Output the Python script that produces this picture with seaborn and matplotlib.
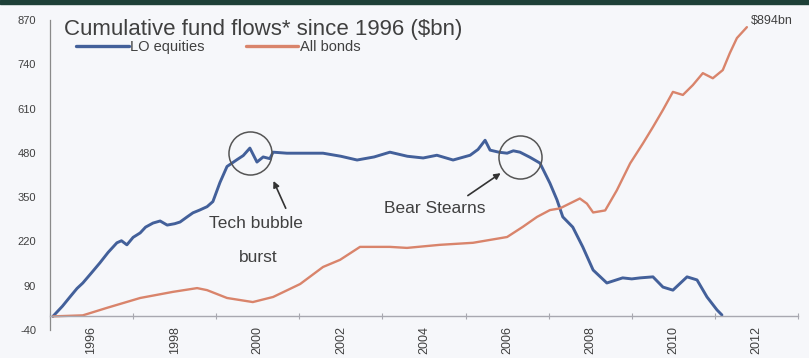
import matplotlib
matplotlib.use("Agg")
import matplotlib.pyplot as plt
import seaborn as sns
import pandas as pd
from matplotlib.lines import Line2D

# ---- data ----
eq_years = [1996.07, 1996.3, 1996.48, 1996.65, 1996.79, 1997.0, 1997.2, 1997.4, 1997.61, 1997.72, 1997.85,
            1998.0, 1998.17, 1998.3, 1998.48, 1998.65, 1998.82, 1999.0, 1999.13, 1999.3, 1999.44, 1999.6,
            1999.78, 1999.92, 2000.09, 2000.26, 2000.5, 2000.65, 2000.81, 2000.98, 2001.13, 2001.29, 2001.37,
            2001.7, 2002.02, 2002.57, 2003.0, 2003.39, 2003.8, 2004.18, 2004.6, 2004.98, 2005.31, 2005.7,
            2006.11, 2006.3, 2006.47, 2006.59, 2006.8, 2007.0, 2007.15, 2007.31, 2007.55, 2007.79, 2008.03,
            2008.2, 2008.34, 2008.58, 2008.82, 2009.07, 2009.4, 2009.78, 2010.0, 2010.2, 2010.51, 2010.75,
            2010.99, 2011.33, 2011.57, 2011.81, 2012.05, 2012.17]
eq_values = [0, 30, 57, 82, 98, 128, 157, 188, 216, 222, 210,
             232, 245, 262, 274, 280, 268, 272, 277, 292, 304, 312,
             322, 337, 393, 440, 460, 472, 494, 453, 468, 463, 482,
             479, 479, 479, 470, 459, 468, 482, 470, 465, 473, 459,
             473, 490, 517, 488, 482, 479, 486, 482, 467, 450, 391,
             342, 292, 262, 204, 136, 98, 113, 110, 113, 116, 86,
             77, 116, 107, 57, 19, 4]

bond_years = [1996.07, 1996.79, 1997.37, 1998.17, 1998.96, 1999.54, 1999.78, 2000.26, 2000.88, 2001.37,
              2002.02, 2002.57, 2002.98, 2003.46, 2004.18, 2004.59, 2005.38, 2006.18, 2007.0, 2007.38,
              2007.72, 2008.03, 2008.27, 2008.75, 2008.92, 2009.07, 2009.36, 2009.64, 2009.96, 2010.27,
              2010.51, 2010.75, 2010.99, 2011.23, 2011.47, 2011.71, 2011.95, 2012.19, 2012.36, 2012.53,
              2012.77]
bond_values = [0, 3, 25, 54, 72, 83, 77, 54, 42, 57,
               95, 145, 166, 204, 204, 201, 210, 216, 233, 263,
               292, 312, 317, 346, 331, 305, 311, 370, 449, 508,
               556, 606, 659, 650, 679, 714, 699, 723, 773, 817,
               849]

series_names = ["LO equities", "All bonds"]
year_labels = ["1996", "1998", "2000", "2002", "2004", "2006", "2008", "2010", "2012"]
y_ticks = [-40, 90, 220, 350, 480, 610, 740, 870]

title = "Cumulative fund flows* since 1996 ($bn)"
end_label = "$894bn"

df = pd.concat([
    pd.DataFrame({"year": eq_years, "value": eq_values, "series": series_names[0]}),
    pd.DataFrame({"year": bond_years, "value": bond_values, "series": series_names[1]}),
])

# ---- style ----
sns.set_theme(style="white")
plt.rcParams["font.family"] = ["Liberation Sans", "DejaVu Sans"]
bg = "#f6f7fa"
txt = "#404040"
palette = {"LO equities": "#43609a", "All bonds": "#d9846b"}

fig = plt.figure(figsize=(8.09, 3.58), dpi=100, facecolor=bg)
ax = fig.add_axes([50 / 809, 28 / 358, 748 / 809, 310 / 358])
ax.set_facecolor(bg)

sns.lineplot(data=df, x="year", y="value", hue="series", palette=palette,
             estimator=None, sort=False, ax=ax, legend=False)
for line, lw in zip(ax.lines, [2.1, 1.7]):
    line.set_linewidth(lw)
    line.set_solid_joinstyle("round")

ax.set_xlim(1996, 2014)
ax.set_ylim(-40, 870)
ax.set_xlabel("")
ax.set_ylabel("")

# y axis
ax.set_yticks(y_ticks)
ax.set_yticklabels([str(v) for v in y_ticks])
ax.tick_params(axis="y", length=0, pad=10, labelsize=8, labelcolor=txt)

# x axis: spine at zero, labels centred on two-year bands
for s in ["top", "right"]:
    ax.spines[s].set_visible(False)
ax.spines["left"].set_color("#8a8a8a")
ax.spines["left"].set_linewidth(0.9)
ax.spines["bottom"].set_position(("data", 0))
ax.spines["bottom"].set_color("#a8a8b0")
ax.spines["bottom"].set_linewidth(1.0)
label_pos = [int(y) + 1 for y in year_labels]
ax.set_xticks(label_pos)
ax.set_xticklabels(year_labels, rotation=90, va="top")
ax.set_xticks([1996 + 2 * i for i in range(10)], minor=True)
ax.tick_params(axis="x", which="major", length=0, pad=7, labelsize=9, labelcolor=txt)
ax.tick_params(axis="x", which="minor", length=4, direction="inout", color="#a8a8b0", width=0.8, bottom=True)

# title and legend
fig.text(64 / 809, 1 - 30 / 358, title, fontsize=16, color=txt, va="center", ha="left")
handles = [Line2D([], [], color=palette[n], lw=2.4) for n in series_names]
leg = fig.legend(handles, series_names, loc="center left", bbox_to_anchor=(63 / 809, 1 - 47 / 358),
                 ncol=2, frameon=False, handlelength=3.6, handletextpad=0.12, columnspacing=2.8,
                 fontsize=10.5)
for t in leg.get_texts():
    t.set_color(txt)

# end label
ax.text(bond_years[-1] + 0.1, 867, end_label, fontsize=9, color=txt, va="center", ha="left")

# annotations
circ_kw = dict(marker="o", markersize=31, markerfacecolor="none", markeredgecolor="#555555",
               markeredgewidth=1.1, linestyle="none")
ax.plot([2000.81], [480], **circ_kw)
ax.plot([2007.31], [467], **circ_kw)

ax.text(2000.95, 272, "Tech bubble", fontsize=12.5, color=txt, ha="center", va="center")
ax.text(2001.0, 172, "burst", fontsize=12.5, color=txt, ha="center", va="center")
ax.annotate("", xy=(2001.35, 405), xytext=(2001.7, 310),
            arrowprops=dict(arrowstyle="-|>", color="#333333", lw=1.2, mutation_scale=9))
ax.text(2005.25, 318, "Bear Stearns", fontsize=12.5, color=txt, ha="center", va="center")
ax.annotate("", xy=(2006.9, 425), xytext=(2006.0, 350),
            arrowprops=dict(arrowstyle="-|>", color="#333333", lw=1.2, mutation_scale=9))

# top dark band
fig.patches.append(plt.Rectangle((0, 1 - 4 / 358), 1, 4 / 358, transform=fig.transFigure,
                                 color="#1e4038", zorder=10))

fig.savefig("out.png", dpi=100, facecolor=bg)
